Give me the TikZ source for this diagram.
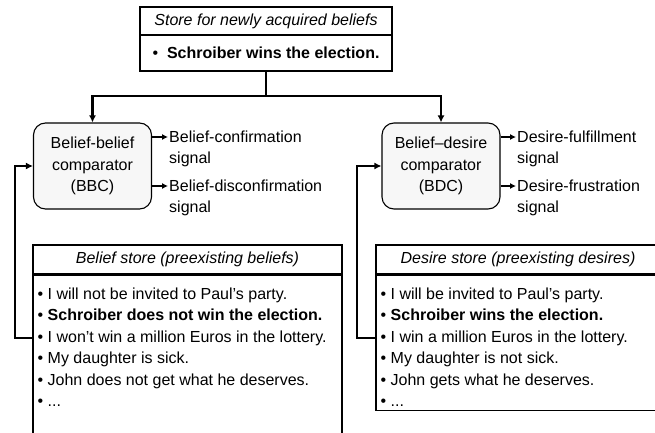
\documentclass[tikz,border=0pt]{standalone}
\usepackage{fontspec}
\setmainfont{Liberation Sans}
\usetikzlibrary{arrows.meta}

\tikzset{
  cell/.style={draw, line width=1.1pt, inner sep=0pt, fill=white},
  comp/.style={draw, line width=1.1pt, rounded corners=12pt, fill=gray!6,
    minimum width=118pt, minimum height=86pt, align=center},
  sig/.style={anchor=west, inner sep=1pt},
  list/.style={anchor=north west, align=left, inner xsep=5pt, inner ysep=13pt},
  conn/.style={line width=2.4pt, -{Latex[length=7pt,width=7pt]}},
  thin/.style={line width=1.1pt, -{Latex[length=6pt,width=6pt]}}
}

\begin{document}
\begin{tikzpicture}[x=1pt,y=-1pt,font=\fontsize{16}{21.5}\selectfont]
  \useasboundingbox (0,0) rectangle (655,433);

  \node[cell, minimum width=252pt, minimum height=28pt] (newT) at (266,21) {\itshape Store for newly acquired beliefs};
  \node[cell, minimum width=252pt, minimum height=36pt] (newB) at (266,53) {\textbullet\ \ \textbf{Schroiber wins the election.}};

  \node[comp] (bbc) at (92.5,166) {Belief-belief\\comparator\\(BBC)};
  \node[comp] (bdc) at (441,166) {Belief--desire\\comparator\\(BDC)};

  \coordinate (split) at (266,96);
  \draw[line width=2.4pt] (newB) -- (split);
  \draw[conn] (split) -| (bbc);
  \draw[conn] (split) -| (bdc);

  \node[sig] (bconf) at (168,137) {Belief-confirmation};
  \node[sig] (bconf2) at (168,159) {signal};
  \node[sig] (bdis) at (168,186) {Belief-disconfirmation};
  \node[sig] (bdis2) at (168,208) {signal};
  \draw[thin] (bbc.east |- bconf) -- (bconf);
  \draw[thin] (bbc.east |- bdis) -- (bdis);

  \node[sig] (dful) at (516,137) {Desire-fulfillment};
  \node[sig] (dful2) at (516,159) {signal};
  \node[sig] (dfru) at (516,186) {Desire-frustration};
  \node[sig] (dfru2) at (516,208) {signal};
  \draw[thin] (bdc.east |- dful) -- (dful);
  \draw[thin] (bdc.east |- dfru) -- (dfru);

  % belief store, open at the bottom
  \node[cell, minimum width=309pt, minimum height=29pt] (bsT) at (187.5,259.5) {\itshape Belief store (preexisting beliefs)};
  \node[cell, minimum width=309pt, minimum height=190pt, anchor=north] (bsB) at (bsT.south) {};
  \node[list] (bsL) at (bsB.north west) {%
    \textbullet\ I will not be invited to Paul’s party.\\
    \textbullet\ \textbf{Schroiber does not win the election.}\\
    \textbullet\ I won’t win a million Euros in the lottery.\\
    \textbullet\ My daughter is sick.\\
    \textbullet\ John does not get what he deserves.\\
    \textbullet\ ...};

  % desire store
  \node[cell, minimum width=284pt, minimum height=29pt] (dsT) at (518,259.5) {\itshape Desire store (preexisting desires)};
  \node[cell, minimum width=284pt, minimum height=135pt, anchor=north] (dsB) at (dsT.south) {};
  \node[list] (dsL) at (dsB.north west) {%
    \textbullet\ I will be invited to Paul’s party.\\
    \textbullet\ \textbf{Schroiber wins the election.}\\
    \textbullet\ I win a million Euros in the lottery.\\
    \textbullet\ My daughter is not sick.\\
    \textbullet\ John gets what he deserves.\\
    \textbullet\ ...};

  \coordinate (bfb) at (33,338);
  \coordinate (dfb) at (376,338);
  \draw[conn] (bfb) -- ++(-18,0) |- (bbc.west);
  \draw[conn] (dfb) -- ++(-19,0) |- (bdc.west);
\end{tikzpicture}
\end{document}
